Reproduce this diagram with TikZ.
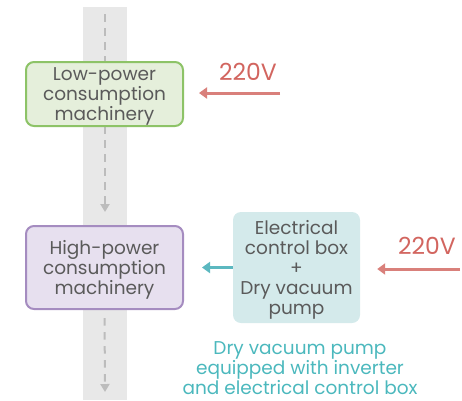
\documentclass[tikz,border=0pt]{standalone}
\usepackage{fontspec}
\setmainfont{Poppins}
\usetikzlibrary{arrows.meta,backgrounds}
\definecolor{bandgray}{HTML}{E8E8E8}
\definecolor{dashgray}{HTML}{BCBCBC}
\definecolor{txtgray}{HTML}{5A5A5A}
\definecolor{grfill}{HTML}{E5EFDB}
\definecolor{grline}{HTML}{8DC367}
\definecolor{pufill}{HTML}{E7E0EF}
\definecolor{puline}{HTML}{A58CC0}
\definecolor{blfill}{HTML}{D4EAEB}
\definecolor{redline}{HTML}{D9807B}
\definecolor{redtxt}{HTML}{D2655F}
\definecolor{teal}{HTML}{5CB8C0}
\definecolor{tealtxt}{HTML}{4BB8BD}
\tikzset{
  box/.style={rounded corners=8pt, inner sep=0pt},
  boxtext/.style={align=center, text=txtgray, inner sep=0pt, yshift=-2.5pt,
    font=\fontsize{18.5}{20}\selectfont},
  flow/.style={dashgray, line width=2pt, dash pattern=on 7.5pt off 6.5pt,
    -{Triangle[width=9pt,length=8pt]}},
  redarrow/.style={redline, line width=3pt, -{Triangle[width=11pt,length=8pt]}},
  tealarrow/.style={teal, line width=3pt, -{Triangle[width=11pt,length=8pt]}},
  volt/.style={text=redtxt, font=\fontsize{23.5}{26}\selectfont, inner sep=0pt},
}
\begin{document}
\begin{tikzpicture}[x=1pt,y=-1pt]
\useasboundingbox (0,0) rectangle (462,400);
\node[box, draw=grline, line width=2pt, fill=grfill, minimum width=157pt, minimum height=64pt,
  label={[boxtext]center:{Low-power\\consumption\\machinery}}]
  (low) at (104.5,94) {};
\node[box, draw=puline, line width=2pt, fill=pufill, minimum width=157pt, minimum height=83pt,
  label={[boxtext]center:{High-power\\consumption\\machinery}}]
  (high) at (104.5,267.5) {};
\node[box, fill=blfill, minimum width=127pt, minimum height=111pt,
  label={[boxtext]center:{Electrical\\control box\\+\\Dry vacuum\\pump}}]
  (pump) at (296.5,267.5) {};
\node[volt] (v1) at (248,72) {220V};
\node[volt] (v2) at (427,246) {220V};
\node[boxtext, text=tealtxt] (cap) at (300,365.5) {Dry vacuum pump\\equipped with inverter\\and electrical control box};
\coordinate (top) at (105,14);
\coordinate (mid) at (105,212);
\coordinate (bot) at (105,392);
\coordinate (r1) at (280,93);
\coordinate (r2) at (460,269);
\begin{pgfonlayer}{background}
  \fill[bandgray] (83,7) rectangle (127,400);
  \draw[flow] (top) -- (mid);
  \draw[flow, shorten <=8pt] (high.south) -- (bot);
\end{pgfonlayer}
\draw[redarrow, shorten >=15pt] (r1) -- (low.east |- r1);
\draw[tealarrow, shorten >=18pt] (pump.west) -- (high.east);
\draw[redarrow, shorten >=17pt] (r2) -- (pump.east |- r2);
\end{tikzpicture}
\end{document}
